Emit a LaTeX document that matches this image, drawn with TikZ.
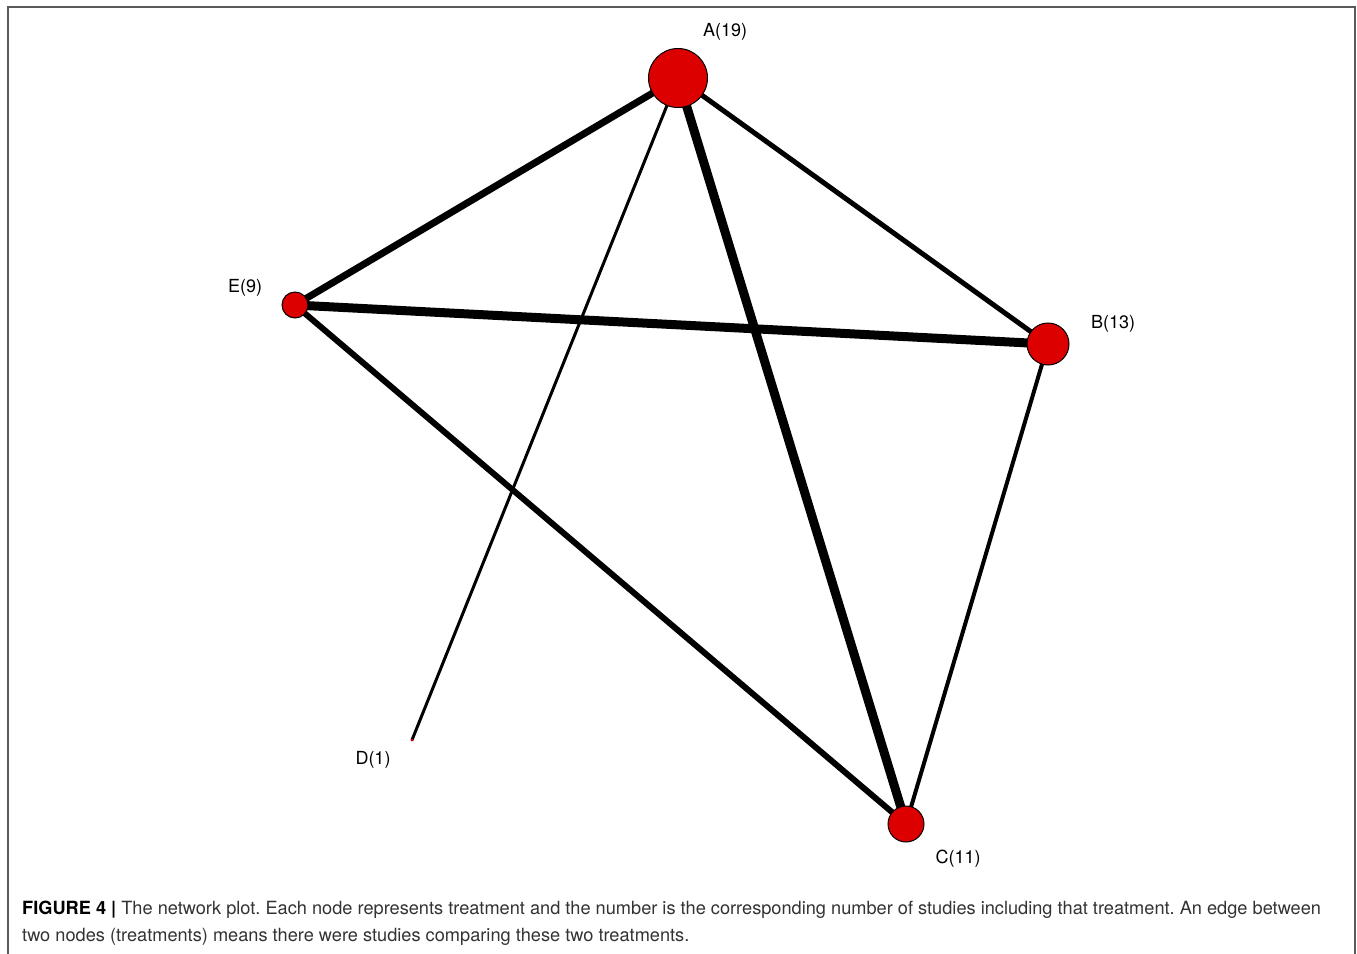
\documentclass[tikz,border=0pt]{standalone}
\usepackage{fontspec}
\setmainfont{TeX Gyre Heros}
\definecolor{nodered}{HTML}{DD0000}
\definecolor{framegray}{HTML}{5A5A5A}
\definecolor{captext}{HTML}{333333}
\begin{document}
\frenchspacing
\begin{tikzpicture}[x=1pt,y=-1pt,
  vert/.style={circle,draw=black,line width=1pt,fill=nodered,inner sep=0pt},
  lab/.style={font=\fontsize{18}{20}\selectfont,inner sep=0pt},
  edge/.style={draw=black,line cap=butt}]
\useasboundingbox (0,0) rectangle (1357,953);
\begin{scope}
\clip (0,0) rectangle (1357,953);
\draw[framegray,line width=2pt] (8,7) rectangle (1355,1000);
\end{scope}
% vertex positions
\coordinate (pA) at (678,78);
\coordinate (pB) at (1048,344);
\coordinate (pC) at (906,824);
\coordinate (pD) at (412,740);
\coordinate (pE) at (295,305);
% edges
\draw[edge,line width=7pt] (pA) -- (pE);
\draw[edge,line width=3pt] (pA) -- (pD);
\draw[edge,line width=9pt] (pA) -- (pC);
\draw[edge,line width=5pt] (pA) -- (pB);
\draw[edge,line width=9pt] (pE) -- (pB);
\draw[edge,line width=6pt] (pE) -- (pC);
\draw[edge,line width=4pt] (pB) -- (pC);
% vertices
\node[vert,minimum size=59pt] (A) at (pA) {};
\node[vert,minimum size=42pt] (B) at (pB) {};
\node[vert,minimum size=36pt] (C) at (pC) {};
\node[circle,fill=nodered,inner sep=0pt,minimum size=3pt] (D) at (pD) {};
\node[vert,minimum size=26pt] (E) at (pE) {};
% labels
\node[lab] (lA) at (725,32) {A(19)};
\node[lab] (lB) at (1113,324) {B(13)};
\node[lab] (lC) at (958,859) {C(11)};
\node[lab] (lD) at (373,760) {D(1)};
\node[lab] (lE) at (245,288) {E(9)};
% caption
\node[anchor=base west,inner sep=0pt,align=left,text=captext,
  font=\fontsize{18.2}{27}\selectfont] (cap) at (22,941)
  {{\color{black}\bfseries FIGURE 4 |} The network plot. Each node represents treatment and the number is the corresponding number of studies including that treatment. An edge between\\
  two nodes (treatments) means there were studies comparing these two treatments.};
\end{tikzpicture}
\end{document}
